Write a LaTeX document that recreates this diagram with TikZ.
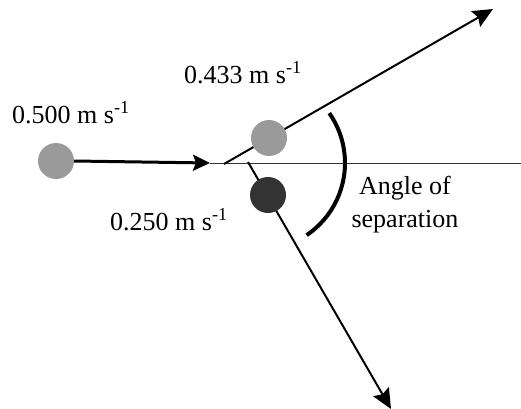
\documentclass[tikz,border=0pt]{standalone}
\usepackage{fontspec}
\setmainfont{Liberation Serif}
\usetikzlibrary{arrows.meta, positioning, calc}
\definecolor{ballgray}{HTML}{9A9A9A}
\definecolor{balldark}{HTML}{333333}
\tikzset{
  ball/.style={circle, minimum size=36pt, inner sep=0pt},
  lightball/.style={ball, fill=ballgray},
  darkball/.style={ball, fill=balldark},
  arr/.style={-{Stealth[length=20pt, width=18pt, inset=3pt]}, line width=2pt, black},
  inarr/.style={line width=3pt, black, -{Stealth[length=17pt, width=16pt, inset=3pt]}},
  refline/.style={line width=1pt, black!80},
  anglearc/.style={line width=4pt, black},
  lbl/.style={font=\fontsize{26}{30}\selectfont, inner sep=0pt},
}

\begin{document}
\begin{tikzpicture}[x=1pt, y=-1pt]
\useasboundingbox (0,0) rectangle (521,408);

% ── reference line and collision point ─────────────────────────────────
\coordinate (intip)   at (210,163);
\coordinate (upstart) at (224,164);
\coordinate (dnstart) at (248,162);
\coordinate (uptip)   at (493,9);
\coordinate (dntip)   at (391,409);
\coordinate (lineend) at (521,163);
\draw[refline] (intip) -- (lineend);

% ── outgoing paths ────────────────────────────────────────────────────
\draw[arr] (upstart) -- (uptip);
\draw[arr] (dnstart) -- (dntip);

% ── balls ─────────────────────────────────────────────────────────────
\node[lightball] (inball) at (56,161) {};
\node[lightball] (upball) at (269,138) {};
\node[darkball]  (dnball) at (268,195) {};
\draw[inarr] (inball.east) -- (intip);

% ── angle of separation ──────────────────────────────────────────────
\coordinate (arcc) at (258,163);
\draw[anglearc] ($(arcc)+(35:87 and -87)$) arc[start angle=35, end angle=-56, x radius=87, y radius=-87];

% ── labels ────────────────────────────────────────────────────────────
\node[lbl, anchor=base west] (vin) at (12,123) {0.500 m s\textsuperscript{-1}};
\node[lbl, anchor=base west] (vup) at (184,83) {0.433 m s\textsuperscript{-1}};
\node[lbl, anchor=base west] (vdn) at (110,230) {0.250 m s\textsuperscript{-1}};
\node[lbl, anchor=base] (ang1) at (405,194) {Angle of};
\node[lbl, anchor=base] (ang2) at (405,227) {separation};

\end{tikzpicture}
\end{document}
